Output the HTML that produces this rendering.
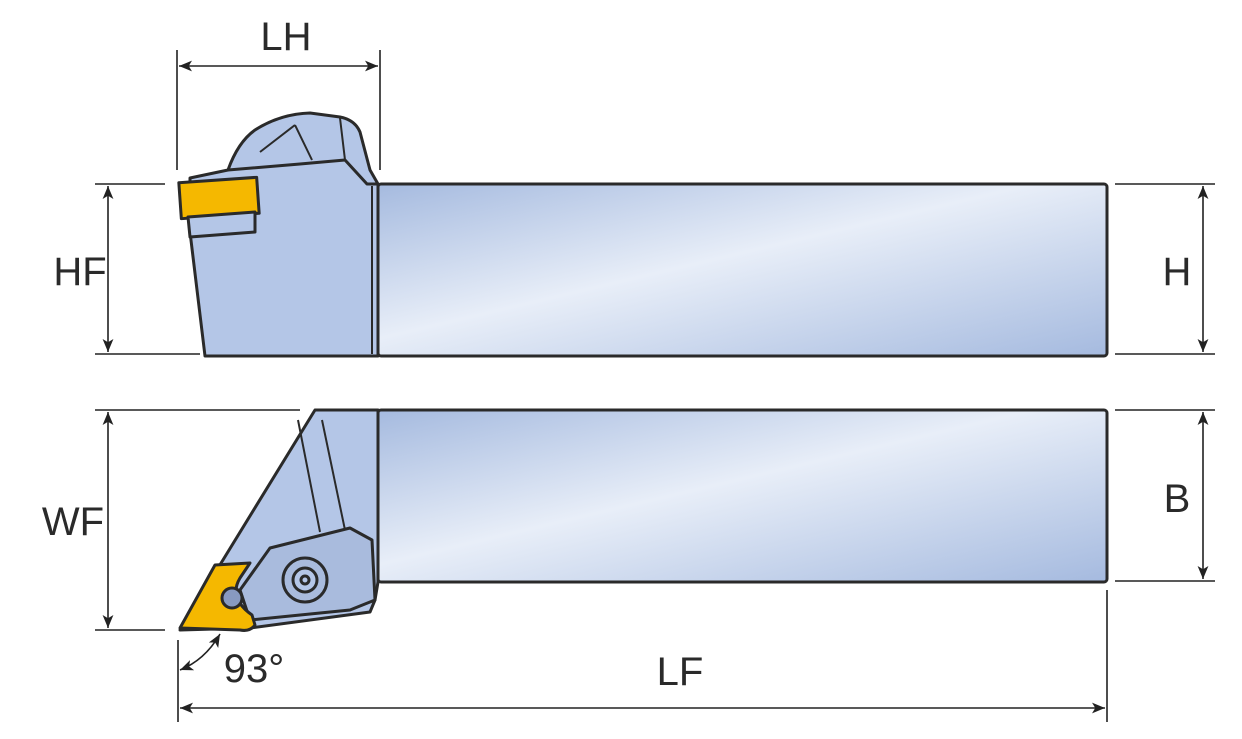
<!DOCTYPE html>
<html><head><style>body{margin:0;background:#fff}svg{display:block}</style></head><body>
<svg width="1242" height="739" viewBox="0 0 1242 739" xmlns="http://www.w3.org/2000/svg" font-family="Liberation Sans, sans-serif">
<defs>
<linearGradient id="g" x1="0" y1="0" x2="1" y2="1">
<stop offset="0" stop-color="#a5badf"/><stop offset="0.45" stop-color="#e8eef8"/><stop offset="1" stop-color="#a5badf"/>
</linearGradient>
<marker id="a" viewBox="0 0 12 10" refX="12" refY="5" markerWidth="13" markerHeight="11" orient="auto-start-reverse" markerUnits="userSpaceOnUse"><path d="M0,0 L12,5 L0,10 L3,5 Z" fill="#222"/></marker>
</defs>
<g stroke="#2a2a2a" stroke-width="3" fill="#b4c6e7" stroke-linejoin="round">
<!-- top view -->
<rect x="378" y="184" width="729" height="172" rx="3" fill="url(#g)"/>
<path d="M190,232 L205,356 L378,356 L378,184 L370,170 L360,132 Q355,120 340,117 L310,113 Q280,114 255,130 Q238,142 228,170 L190,178 Z"/>
<path d="M228,170 L300,164 L345,160 L367,184 L378,184" fill="none"/>
<path d="M260,152 L295,125 M295,125 L312,160 M340,118 L345,160" fill="none" stroke-width="2"/>
<rect x="180" y="180" width="78" height="36" fill="#f5b800" transform="rotate(-4 219 198)"/>
<path d="M188,217 L255,212 L255,232 L190,237 Z"/>
<line x1="372" y1="186" x2="372" y2="354" stroke-width="2"/>
<!-- bottom view -->
<rect x="378" y="410" width="729" height="172" rx="3" fill="url(#g)"/>
<path d="M315,410 L378,410 L378,582 L375,600 L370,612 L250,628 L180,630 Z"/>
<path d="M298,420 L320,532 M322,420 L345,530" fill="none" stroke-width="2"/>
<path d="M270,548 L350,528 L372,540 L375,600 L350,610 L250,620 L240,590 Z" fill="#a9bbdd"/>
<circle cx="305" cy="580" r="22" fill="#a9bbdd"/><circle cx="305" cy="580" r="12"/><circle cx="305" cy="580" r="4"/>
<path d="M180,628 L215,565 L250,563 L240,578 Q228,598 252,615 L255,625 Q250,632 240,630 Z" fill="#f5b800"/>
<circle cx="232" cy="598" r="10" fill="#889ac0"/>
</g>
<g stroke="#222" stroke-width="1.6" fill="none">
<line x1="177" y1="50" x2="177" y2="170"/><line x1="380" y1="50" x2="380" y2="170"/>
<line x1="179" y1="66" x2="378" y2="66" marker-start="url(#a)" marker-end="url(#a)"/>
<line x1="95" y1="184" x2="165" y2="184"/><line x1="95" y1="354" x2="200" y2="354"/>
<line x1="108" y1="186" x2="108" y2="352" marker-start="url(#a)" marker-end="url(#a)"/>
<line x1="1115" y1="184" x2="1215" y2="184"/><line x1="1115" y1="354" x2="1215" y2="354"/>
<line x1="1203" y1="186" x2="1203" y2="352" marker-start="url(#a)" marker-end="url(#a)"/>
<line x1="1115" y1="410" x2="1215" y2="410"/><line x1="1115" y1="581" x2="1215" y2="581"/>
<line x1="1203" y1="412" x2="1203" y2="579" marker-start="url(#a)" marker-end="url(#a)"/>
<line x1="95" y1="410" x2="300" y2="410"/><line x1="95" y1="630" x2="165" y2="630"/>
<line x1="108" y1="412" x2="108" y2="628" marker-start="url(#a)" marker-end="url(#a)"/>
<line x1="178" y1="640" x2="178" y2="722"/><line x1="1107" y1="590" x2="1107" y2="722"/>
<line x1="180" y1="708" x2="1105" y2="708" marker-start="url(#a)" marker-end="url(#a)"/>
<path d="M180,670 Q205,660 220,634" marker-start="url(#a)" marker-end="url(#a)"/>
</g>
<g fill="#2a2a2a" font-size="40" text-anchor="middle">
<text x="286" y="50">LH</text>
<text x="80" y="285">HF</text>
<text x="1177" y="285">H</text>
<text x="1177" y="512">B</text>
<text x="73" y="535">WF</text>
<text x="680" y="685">LF</text>
<text x="254" y="682">93°</text>
</g>
</svg>
</body></html>
